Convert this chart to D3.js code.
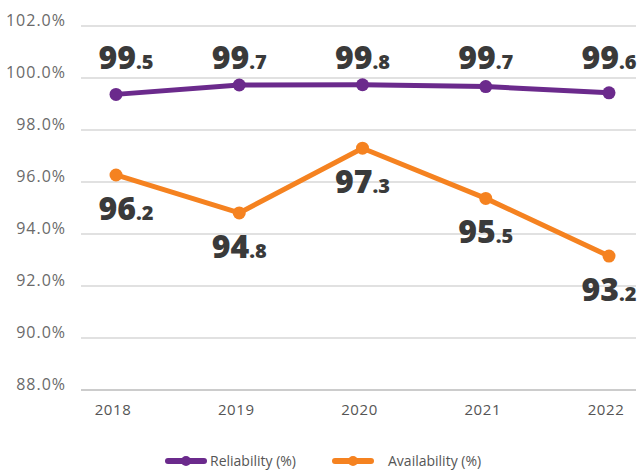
<!DOCTYPE html>
<html>
<head>
<meta charset="utf-8">
<script src="https://cdn.jsdelivr.net/npm/d3@7"></script>
<style>
  body { margin: 0; background: #fff; }
  .chart text { font-family: "Open Sans", "DejaVu Sans", sans-serif; }
  .lbl { font-weight: 800; fill: #3a3a3a; }
</style>
</head>
<body>
<div class="chart"></div>
<script>
var years = ['2018', '2019', '2020', '2021', '2022']
var yTicks = [88, 90, 92, 94, 96, 98, 100, 102]
var reliability = [99.37, 99.73, 99.74, 99.67, 99.43]
var availability = [96.27, 94.81, 97.3, 95.37, 93.15]
var reliabilityLabels = ['99.5', '99.7', '99.8', '99.7', '99.6']
var availabilityLabels = ['96.2', '94.8', '97.3', '95.5', '93.2']
var seriesNames = ['Reliability (%)', 'Availability (%)']
var colors = ['#6b2a8c', '#f58220']

var width = 638, height = 472
var svg = d3.select('.chart').append('svg')
  .attr('width', width)
  .attr('height', height)

var x = d3.scalePoint().domain(years).range([116, 609])
var y = d3.scaleLinear().domain([88, 102]).range([390, 26])

// gridlines
svg.append('g')
  .selectAll('line')
  .data(yTicks)
  .enter()
  .append('line')
  .attr('x1', 81)
  .attr('x2', 636)
  .attr('y1', function(d) { return y(d) })
  .attr('y2', function(d) { return y(d) })
  .style('stroke', function(d) { return d === 88 ? '#9a9a9a' : '#c4c4c4' })
  .style('stroke-width', 1.2)

// y tick labels
svg.append('g')
  .selectAll('text')
  .data(yTicks)
  .enter()
  .append('text')
  .attr('x', 66)
  .attr('y', function(d) { return y(d) })
  .attr('text-anchor', 'end')
  .style('font-size', '16px')
  .style('letter-spacing', '1px')
  .style('fill', '#6a6a6a')
  .text(function(d) { return d.toFixed(1) + '%' })

// x tick labels
svg.append('g')
  .selectAll('text')
  .data(years)
  .enter()
  .append('text')
  .attr('x', function(d) { return x(d) - 3 })
  .attr('y', 415)
  .attr('text-anchor', 'middle')
  .style('font-size', '15px')
  .style('letter-spacing', '0.6px')
  .style('fill', '#555')
  .text(function(d) { return d })

var line = d3.line()
  .x(function(d, i) { return x(years[i]) })
  .y(function(d) { return y(d) })

var series = [reliability, availability]
series.forEach(function(vals, s) {
  svg.append('path')
    .datum(vals)
    .attr('d', line)
    .style('fill', 'none')
    .style('stroke', colors[s])
    .style('stroke-width', 5)
    .style('stroke-linejoin', 'round')
  svg.append('g')
    .selectAll('circle')
    .data(vals)
    .enter()
    .append('circle')
    .attr('cx', function(d, i) { return x(years[i]) })
    .attr('cy', function(d) { return y(d) })
    .attr('r', 6.5)
    .style('fill', colors[s])
})

// data labels: big integer part, small decimal part
function addLabel(txt, cx, cy) {
  var parts = txt.split('.')
  var t = svg.append('text')
    .attr('class', 'lbl')
    .attr('x', cx)
    .attr('y', cy)
    .attr('text-anchor', 'middle')
  t.append('tspan').style('font-size', '32px').text(parts[0])
  t.append('tspan').style('font-size', '20px').text('.' + parts[1])
}
reliabilityLabels.forEach(function(l, i) {
  addLabel(l, x(years[i]) + (i === 0 ? 10 : 0), y(100) - 9)
})
availabilityLabels.forEach(function(l, i) {
  addLabel(l, x(years[i]) + (i === 0 ? 10 : 0), y(availability[i]) + 45)
})

// legend
var legend = [{x: 168, tx: 210}, {x: 335, tx: 388}]
legend.forEach(function(lg, i) {
  var g = svg.append('g')
  g.append('line')
    .attr('x1', lg.x).attr('x2', lg.x + 36)
    .attr('y1', 461).attr('y2', 461)
    .style('stroke', colors[i])
    .style('stroke-width', 6)
    .style('stroke-linecap', 'round')
  g.append('circle')
    .attr('cx', lg.x + 18).attr('cy', 461).attr('r', 5)
    .style('fill', colors[i])
  g.append('text')
    .attr('x', lg.tx).attr('y', 466)
    .style('font-size', '14px')
    .style('fill', '#555')
    .text(seriesNames[i])
})
</script>
</body>
</html>
